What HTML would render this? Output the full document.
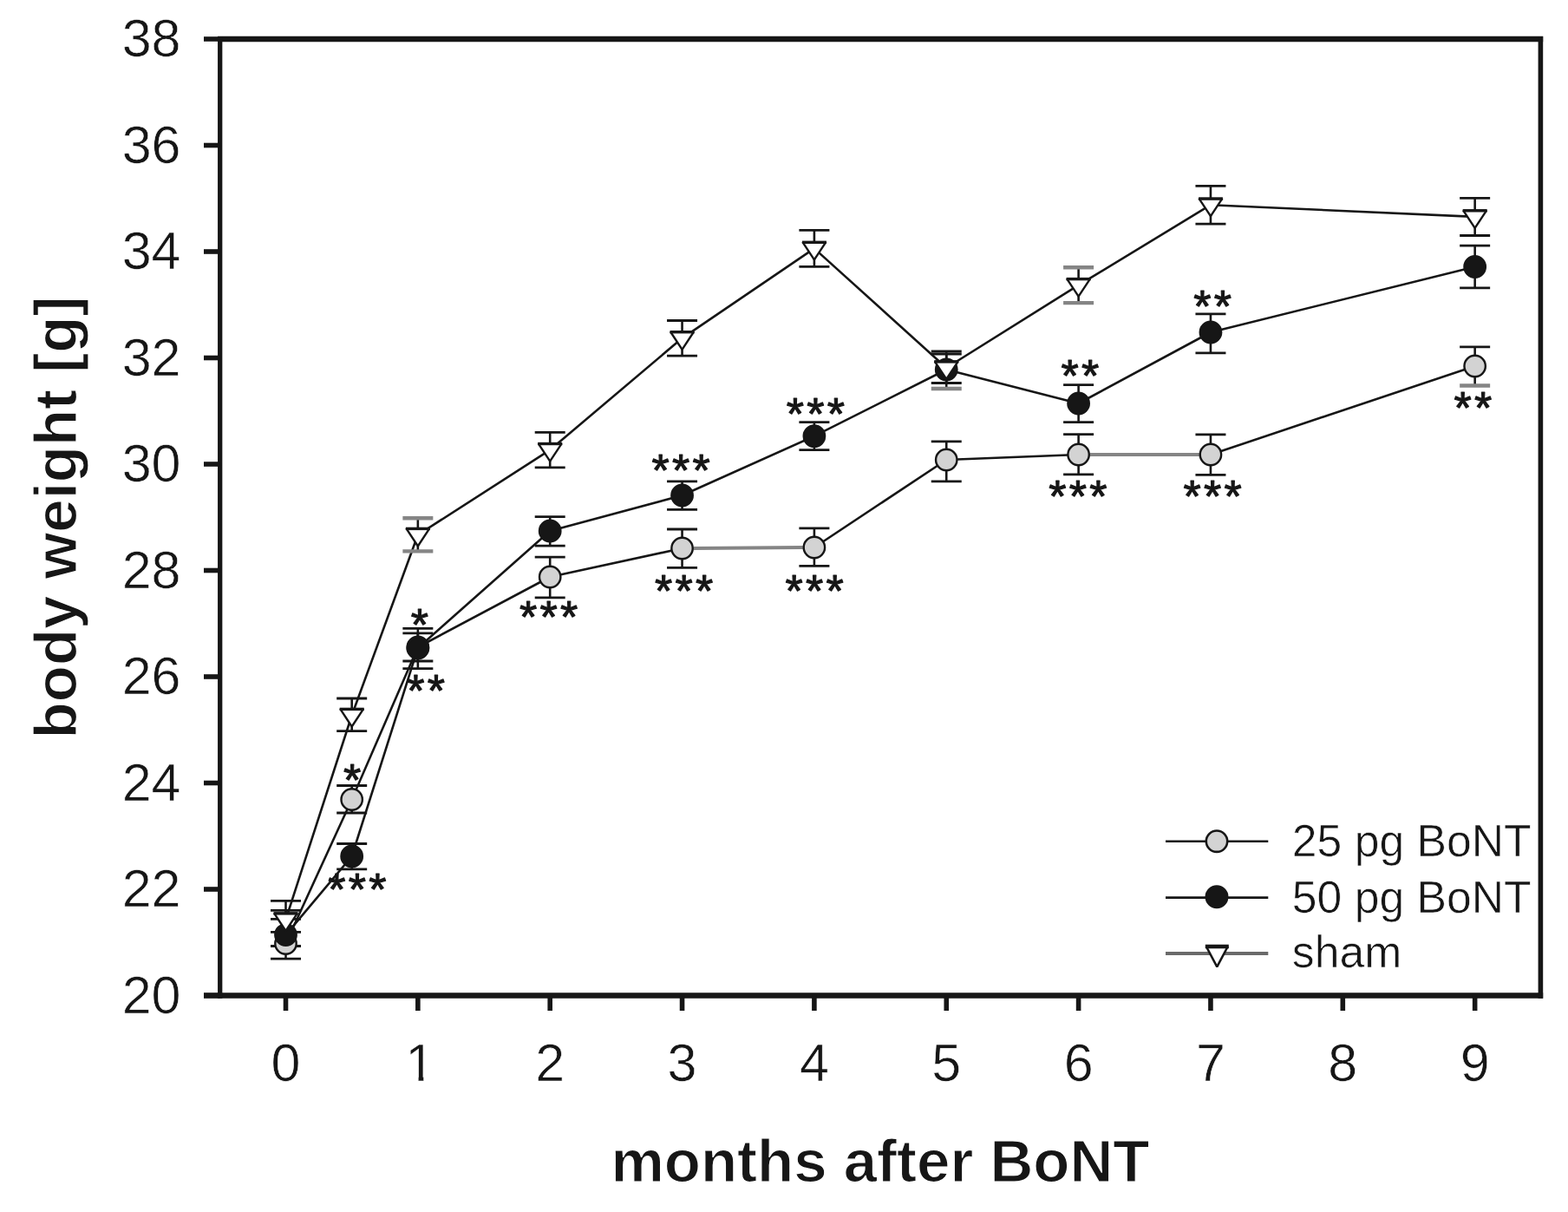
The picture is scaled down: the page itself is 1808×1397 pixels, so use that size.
<!DOCTYPE html>
<html><head><meta charset="utf-8"><title>body weight chart</title>
<style>html,body{margin:0;padding:0;background:#fff;}svg{display:block;}</style></head><body>
<svg width="1808" height="1397" viewBox="0 0 1808 1397">
<rect width="1808" height="1397" fill="#fff"/>
<defs><clipPath id="one"><rect x="440" y="1180" width="80" height="60.6"/><rect x="482.6" y="1180" width="5.7" height="80"/></clipPath></defs>
<g fill="none" stroke="#161616">
<line x1="251" y1="45" x2="1779.2" y2="45" stroke-width="6.6"/>
<line x1="235" y1="1147.5" x2="1779.2" y2="1147.5" stroke-width="6.4"/>
<line x1="253.7" y1="42" x2="253.7" y2="1150.7" stroke-width="5.3"/>
<line x1="1776.4" y1="42" x2="1776.4" y2="1150.7" stroke-width="5.6"/>
</g>
<g stroke="#161616" stroke-width="5.6">
<line x1="235" y1="1147.5" x2="254" y2="1147.5"/>
<line x1="235" y1="1025" x2="254" y2="1025"/>
<line x1="235" y1="902.5" x2="254" y2="902.5"/>
<line x1="235" y1="780" x2="254" y2="780"/>
<line x1="235" y1="657.5" x2="254" y2="657.5"/>
<line x1="235" y1="535" x2="254" y2="535"/>
<line x1="235" y1="412.5" x2="254" y2="412.5"/>
<line x1="235" y1="290" x2="254" y2="290"/>
<line x1="235" y1="167.5" x2="254" y2="167.5"/>
<line x1="235" y1="45" x2="254" y2="45"/>
<line x1="329.5" y1="1147" x2="329.5" y2="1165"/>
<line x1="481.85" y1="1147" x2="481.85" y2="1165"/>
<line x1="634.2" y1="1147" x2="634.2" y2="1165"/>
<line x1="786.55" y1="1147" x2="786.55" y2="1165"/>
<line x1="938.9" y1="1147" x2="938.9" y2="1165"/>
<line x1="1091.25" y1="1147" x2="1091.25" y2="1165"/>
<line x1="1243.6" y1="1147" x2="1243.6" y2="1165"/>
<line x1="1395.95" y1="1147" x2="1395.95" y2="1165"/>
<line x1="1548.3" y1="1147" x2="1548.3" y2="1165"/>
<line x1="1700.65" y1="1147" x2="1700.65" y2="1165"/>
</g>
<g font-family="Liberation Sans, Arial, sans-serif" font-size="61" fill="#161616" stroke="#fff" stroke-width="0.6">
<text x="208.5" y="1167.5" text-anchor="end">20</text>
<text x="208.5" y="1045" text-anchor="end">22</text>
<text x="208.5" y="922.5" text-anchor="end">24</text>
<text x="208.5" y="800" text-anchor="end">26</text>
<text x="208.5" y="677.5" text-anchor="end">28</text>
<text x="208.5" y="555" text-anchor="end">30</text>
<text x="208.5" y="432.5" text-anchor="end">32</text>
<text x="208.5" y="310" text-anchor="end">34</text>
<text x="208.5" y="187.5" text-anchor="end">36</text>
<text x="208.5" y="65" text-anchor="end">38</text>
<text x="329.5" y="1245.6" text-anchor="middle">0</text>
<text x="634.2" y="1245.6" text-anchor="middle">2</text>
<text x="786.55" y="1245.6" text-anchor="middle">3</text>
<text x="938.9" y="1245.6" text-anchor="middle">4</text>
<text x="1091.25" y="1245.6" text-anchor="middle">5</text>
<text x="1243.6" y="1245.6" text-anchor="middle">6</text>
<text x="1395.95" y="1245.6" text-anchor="middle">7</text>
<text x="1548.3" y="1245.6" text-anchor="middle">8</text>
<text x="1700.65" y="1245.6" text-anchor="middle">9</text>
<text x="484.25" y="1245.6" text-anchor="middle" clip-path="url(#one)">1</text>
</g>
<text x="1014.9" y="1362" text-anchor="middle" font-family="Liberation Sans, Arial, sans-serif" font-weight="bold" font-size="69" fill="#161616" stroke="#fff" stroke-width="1.2">months after BoNT</text>
<text transform="translate(88 596.5) rotate(-90)" text-anchor="middle" font-family="Liberation Sans, Arial, sans-serif" font-weight="bold" font-size="69" fill="#161616" stroke="#fff" stroke-width="1.2">body weight [g]</text>
<g fill="none" stroke="#161616" stroke-width="2.6" stroke-linejoin="round">
<polyline points="329.5,1077.6 405.68,987 481.85,747 634.2,612 786.55,571 938.9,502.7 1091.25,426 1243.6,465 1395.95,383 1700.65,307.5"/>
<polyline points="329.5,1060 405.68,824.5 481.85,616.5 634.2,518.6 786.55,389.8 938.9,286.4 1091.25,424 1243.6,328.7 1395.95,236.2 1700.65,249.9"/>
<polyline points="329.5,1087.5 405.68,921.5 481.85,746 634.2,665 786.55,632"/>
<polyline points="938.9,631 1091.25,530 1243.6,524"/>
<polyline points="1395.95,524 1700.65,422"/>
</g>
<g fill="none" stroke="#858585" stroke-width="4">
<line x1="799.55" y1="632" x2="925.9" y2="631"/>
<line x1="1256.6" y1="524" x2="1382.95" y2="524"/>
</g>
<g stroke="#161616" fill="none">
<line x1="329.5" y1="1049.3" x2="329.5" y2="1105.2" stroke-width="2.6"/>
<line x1="312" y1="1049.3" x2="347" y2="1049.3" stroke-width="2.8"/>
<line x1="312" y1="1105.2" x2="347" y2="1105.2" stroke-width="2.8"/>
<line x1="405.68" y1="905.5" x2="405.68" y2="937" stroke-width="2.6"/>
<line x1="388.18" y1="905.5" x2="423.18" y2="905.5" stroke-width="2.8"/>
<line x1="388.18" y1="937" x2="423.18" y2="937" stroke-width="2.8"/>
<line x1="481.85" y1="729.8" x2="481.85" y2="762" stroke-width="2.6"/>
<line x1="464.35" y1="729.8" x2="499.35" y2="729.8" stroke-width="2.8"/>
<line x1="464.35" y1="762" x2="499.35" y2="762" stroke-width="2.8"/>
<line x1="634.2" y1="642.2" x2="634.2" y2="688.8" stroke-width="2.6"/>
<line x1="616.7" y1="642.2" x2="651.7" y2="642.2" stroke-width="2.8"/>
<line x1="616.7" y1="688.8" x2="651.7" y2="688.8" stroke-width="2.8"/>
<line x1="786.55" y1="610" x2="786.55" y2="654.3" stroke-width="2.6"/>
<line x1="769.05" y1="610" x2="804.05" y2="610" stroke-width="2.8"/>
<line x1="769.05" y1="654.3" x2="804.05" y2="654.3" stroke-width="2.8"/>
<line x1="938.9" y1="608.9" x2="938.9" y2="652.3" stroke-width="2.6"/>
<line x1="921.4" y1="608.9" x2="956.4" y2="608.9" stroke-width="2.8"/>
<line x1="921.4" y1="652.3" x2="956.4" y2="652.3" stroke-width="2.8"/>
<line x1="1091.25" y1="508.8" x2="1091.25" y2="554.9" stroke-width="2.6"/>
<line x1="1073.75" y1="508.8" x2="1108.75" y2="508.8" stroke-width="2.8"/>
<line x1="1073.75" y1="554.9" x2="1108.75" y2="554.9" stroke-width="2.8"/>
<line x1="1243.6" y1="500.6" x2="1243.6" y2="546.8" stroke-width="2.6"/>
<line x1="1226.1" y1="500.6" x2="1261.1" y2="500.6" stroke-width="2.8"/>
<line x1="1226.1" y1="546.8" x2="1261.1" y2="546.8" stroke-width="2.8"/>
<line x1="1395.95" y1="500.9" x2="1395.95" y2="547.3" stroke-width="2.6"/>
<line x1="1378.45" y1="500.9" x2="1413.45" y2="500.9" stroke-width="2.8"/>
<line x1="1378.45" y1="547.3" x2="1413.45" y2="547.3" stroke-width="2.8"/>
<line x1="1700.65" y1="399.8" x2="1700.65" y2="444.5" stroke-width="2.6"/>
<line x1="1683.15" y1="399.8" x2="1718.15" y2="399.8" stroke-width="2.8"/>
<line x1="1683.15" y1="444.5" x2="1718.15" y2="444.5" stroke="#858585" stroke-width="4.4"/>
<line x1="329.5" y1="1059.4" x2="329.5" y2="1090.5" stroke-width="2.6"/>
<line x1="312" y1="1059.4" x2="347" y2="1059.4" stroke-width="2.8"/>
<line x1="312" y1="1090.5" x2="347" y2="1090.5" stroke-width="2.8"/>
<line x1="405.68" y1="972.5" x2="405.68" y2="1001.8" stroke-width="2.6"/>
<line x1="388.18" y1="972.5" x2="423.18" y2="972.5" stroke-width="2.8"/>
<line x1="388.18" y1="1001.8" x2="423.18" y2="1001.8" stroke-width="2.8"/>
<line x1="481.85" y1="724.3" x2="481.85" y2="770.7" stroke-width="2.6"/>
<line x1="464.35" y1="724.3" x2="499.35" y2="724.3" stroke-width="2.8"/>
<line x1="464.35" y1="770.7" x2="499.35" y2="770.7" stroke-width="2.8"/>
<line x1="634.2" y1="595.7" x2="634.2" y2="629.2" stroke-width="2.6"/>
<line x1="616.7" y1="595.7" x2="651.7" y2="595.7" stroke-width="2.8"/>
<line x1="616.7" y1="629.2" x2="651.7" y2="629.2" stroke-width="2.8"/>
<line x1="786.55" y1="554.9" x2="786.55" y2="587.4" stroke-width="2.6"/>
<line x1="769.05" y1="554.9" x2="804.05" y2="554.9" stroke-width="2.8"/>
<line x1="769.05" y1="587.4" x2="804.05" y2="587.4" stroke-width="2.8"/>
<line x1="938.9" y1="486.6" x2="938.9" y2="518.7" stroke-width="2.6"/>
<line x1="921.4" y1="486.6" x2="956.4" y2="486.6" stroke-width="2.8"/>
<line x1="921.4" y1="518.7" x2="956.4" y2="518.7" stroke-width="2.8"/>
<line x1="1091.25" y1="405" x2="1091.25" y2="448" stroke-width="2.6"/>
<line x1="1073.75" y1="405" x2="1108.75" y2="405" stroke-width="2.8"/>
<line x1="1073.75" y1="448" x2="1108.75" y2="448" stroke="#858585" stroke-width="4.4"/>
<line x1="1243.6" y1="443.7" x2="1243.6" y2="486.6" stroke-width="2.6"/>
<line x1="1226.1" y1="443.7" x2="1261.1" y2="443.7" stroke-width="2.8"/>
<line x1="1226.1" y1="486.6" x2="1261.1" y2="486.6" stroke-width="2.8"/>
<line x1="1395.95" y1="361.8" x2="1395.95" y2="406.9" stroke-width="2.6"/>
<line x1="1378.45" y1="361.8" x2="1413.45" y2="361.8" stroke-width="2.8"/>
<line x1="1378.45" y1="406.9" x2="1413.45" y2="406.9" stroke-width="2.8"/>
<line x1="1700.65" y1="283.2" x2="1700.65" y2="331.9" stroke-width="2.6"/>
<line x1="1683.15" y1="283.2" x2="1718.15" y2="283.2" stroke-width="2.8"/>
<line x1="1683.15" y1="331.9" x2="1718.15" y2="331.9" stroke-width="2.8"/>
<line x1="329.5" y1="1038.3" x2="329.5" y2="1074.4" stroke-width="2.6"/>
<line x1="312" y1="1038.3" x2="347" y2="1038.3" stroke-width="2.8"/>
<line x1="312" y1="1074.4" x2="347" y2="1074.4" stroke-width="2.8"/>
<line x1="405.68" y1="805" x2="405.68" y2="842.7" stroke-width="2.6"/>
<line x1="388.18" y1="805" x2="423.18" y2="805" stroke-width="2.8"/>
<line x1="388.18" y1="842.7" x2="423.18" y2="842.7" stroke-width="2.8"/>
<line x1="481.85" y1="597.2" x2="481.85" y2="635.4" stroke-width="2.6"/>
<line x1="464.35" y1="597.2" x2="499.35" y2="597.2" stroke="#858585" stroke-width="4.4"/>
<line x1="464.35" y1="635.4" x2="499.35" y2="635.4" stroke="#858585" stroke-width="4.4"/>
<line x1="634.2" y1="498.3" x2="634.2" y2="538.9" stroke-width="2.6"/>
<line x1="616.7" y1="498.3" x2="651.7" y2="498.3" stroke-width="2.8"/>
<line x1="616.7" y1="538.9" x2="651.7" y2="538.9" stroke-width="2.8"/>
<line x1="786.55" y1="369.5" x2="786.55" y2="410.1" stroke-width="2.6"/>
<line x1="769.05" y1="369.5" x2="804.05" y2="369.5" stroke-width="2.8"/>
<line x1="769.05" y1="410.1" x2="804.05" y2="410.1" stroke-width="2.8"/>
<line x1="938.9" y1="265.4" x2="938.9" y2="307.3" stroke-width="2.6"/>
<line x1="921.4" y1="265.4" x2="956.4" y2="265.4" stroke-width="2.8"/>
<line x1="921.4" y1="307.3" x2="956.4" y2="307.3" stroke-width="2.8"/>
<line x1="1091.25" y1="408" x2="1091.25" y2="441.5" stroke-width="2.6"/>
<line x1="1073.75" y1="408" x2="1108.75" y2="408" stroke-width="2.8"/>
<line x1="1073.75" y1="441.5" x2="1108.75" y2="441.5" stroke-width="2.8"/>
<line x1="1243.6" y1="308.3" x2="1243.6" y2="349.1" stroke-width="2.6"/>
<line x1="1226.1" y1="308.3" x2="1261.1" y2="308.3" stroke="#858585" stroke-width="4.4"/>
<line x1="1226.1" y1="349.1" x2="1261.1" y2="349.1" stroke="#858585" stroke-width="4.4"/>
<line x1="1395.95" y1="214.4" x2="1395.95" y2="258.1" stroke-width="2.6"/>
<line x1="1378.45" y1="214.4" x2="1413.45" y2="214.4" stroke-width="2.8"/>
<line x1="1378.45" y1="258.1" x2="1413.45" y2="258.1" stroke-width="2.8"/>
<line x1="1700.65" y1="228.3" x2="1700.65" y2="271.5" stroke-width="2.6"/>
<line x1="1683.15" y1="228.3" x2="1718.15" y2="228.3" stroke-width="2.8"/>
<line x1="1683.15" y1="271.5" x2="1718.15" y2="271.5" stroke-width="2.8"/>
</g>
<g stroke="#161616" stroke-width="2.4">
<circle cx="329.5" cy="1087.5" r="12.2" fill="#d3d3d3"/>
<circle cx="405.68" cy="921.5" r="12.2" fill="#d3d3d3"/>
<circle cx="481.85" cy="746" r="12.2" fill="#d3d3d3"/>
<circle cx="634.2" cy="665" r="12.2" fill="#d3d3d3"/>
<circle cx="786.55" cy="632" r="12.2" fill="#d3d3d3"/>
<circle cx="938.9" cy="631" r="12.2" fill="#d3d3d3"/>
<circle cx="1091.25" cy="530" r="12.2" fill="#d3d3d3"/>
<circle cx="1243.6" cy="524" r="12.2" fill="#d3d3d3"/>
<circle cx="1395.95" cy="524" r="12.2" fill="#d3d3d3"/>
<circle cx="1700.65" cy="422" r="12.2" fill="#d3d3d3"/>
<circle cx="329.5" cy="1077.6" r="12.2" fill="#161616"/>
<circle cx="405.68" cy="987" r="12.2" fill="#161616"/>
<circle cx="481.85" cy="747" r="12.2" fill="#161616"/>
<circle cx="634.2" cy="612" r="12.2" fill="#161616"/>
<circle cx="786.55" cy="571" r="12.2" fill="#161616"/>
<circle cx="938.9" cy="502.7" r="12.2" fill="#161616"/>
<circle cx="1091.25" cy="426" r="12.2" fill="#161616"/>
<circle cx="1243.6" cy="465" r="12.2" fill="#161616"/>
<circle cx="1395.95" cy="383" r="12.2" fill="#161616"/>
<circle cx="1700.65" cy="307.5" r="12.2" fill="#161616"/>
<path d="M316.1,1052.7 L342.9,1052.7 L329.5,1073 Z" fill="#fff" stroke-linejoin="bevel"/>
<line x1="315.5" y1="1052.9" x2="343.5" y2="1052.9" stroke-width="3.4"/>
<path d="M392.28,817.2 L419.07,817.2 L405.68,837.5 Z" fill="#fff" stroke-linejoin="bevel"/>
<line x1="391.68" y1="817.4" x2="419.68" y2="817.4" stroke-width="3.4"/>
<path d="M468.45,609.2 L495.25,609.2 L481.85,629.5 Z" fill="#fff" stroke-linejoin="bevel"/>
<line x1="467.85" y1="609.4" x2="495.85" y2="609.4" stroke-width="3.4"/>
<path d="M620.8,511.3 L647.6,511.3 L634.2,531.6 Z" fill="#fff" stroke-linejoin="bevel"/>
<line x1="620.2" y1="511.5" x2="648.2" y2="511.5" stroke-width="3.4"/>
<path d="M773.15,382.5 L799.95,382.5 L786.55,402.8 Z" fill="#fff" stroke-linejoin="bevel"/>
<line x1="772.55" y1="382.7" x2="800.55" y2="382.7" stroke-width="3.4"/>
<path d="M925.5,279.1 L952.3,279.1 L938.9,299.4 Z" fill="#fff" stroke-linejoin="bevel"/>
<line x1="924.9" y1="279.3" x2="952.9" y2="279.3" stroke-width="3.4"/>
<path d="M1077.85,416.7 L1104.65,416.7 L1091.25,437 Z" fill="#fff" stroke-linejoin="bevel"/>
<line x1="1077.25" y1="416.9" x2="1105.25" y2="416.9" stroke-width="3.4"/>
<path d="M1230.2,321.4 L1257,321.4 L1243.6,341.7 Z" fill="#fff" stroke-linejoin="bevel"/>
<line x1="1229.6" y1="321.6" x2="1257.6" y2="321.6" stroke-width="3.4"/>
<path d="M1382.55,228.9 L1409.35,228.9 L1395.95,249.2 Z" fill="#fff" stroke-linejoin="bevel"/>
<line x1="1381.95" y1="229.1" x2="1409.95" y2="229.1" stroke-width="3.4"/>
<path d="M1687.25,242.6 L1714.05,242.6 L1700.65,262.9 Z" fill="#fff" stroke-linejoin="bevel"/>
<line x1="1686.65" y1="242.8" x2="1714.65" y2="242.8" stroke-width="3.4"/>
</g>
<g font-family="Liberation Sans, Arial, sans-serif" font-size="52" fill="#161616" stroke="#161616" stroke-width="1.1" stroke-linejoin="round" text-anchor="middle">
<text x="406" y="917.17">*</text>
<text x="388.4 411.9 435.4" y="1042.87">***</text>
<text x="483.9" y="737.77">*</text>
<text x="479.25 502.75" y="814.07">**</text>
<text x="609 632.5 656" y="729.47">***</text>
<text x="761.7 785.2 808.7" y="560.37">***</text>
<text x="765.2 788.7 812.2" y="699.27">***</text>
<text x="916.9 940.4 963.9" y="495.17">***</text>
<text x="915.6 939.1 962.6" y="699.37">***</text>
<text x="1233.65 1257.15" y="451.27">**</text>
<text x="1219.4 1242.9 1266.4" y="590.37">***</text>
<text x="1386.25 1409.75" y="370.57">**</text>
<text x="1374.5 1398 1421.5" y="590.07">***</text>
<text x="1686.55 1710.05" y="487.87">**</text>
</g>
<g stroke="#161616" stroke-width="2.6">
<line x1="1344" y1="969.8" x2="1462.3" y2="969.8"/>
<circle cx="1403" cy="969.7" r="12.2" fill="#d3d3d3"/>
<line x1="1344" y1="1034.6" x2="1462.3" y2="1034.6"/>
<circle cx="1403" cy="1033.8" r="12.2" fill="#161616"/>
<line x1="1344" y1="1099" x2="1462.3" y2="1099" stroke="#6a6a6a" stroke-width="4.2"/>
<path d="M1390.9,1091 L1415.7,1091 L1403.3,1114.4 Z" fill="#fff" stroke-linejoin="bevel"/>
<line x1="1389.8" y1="1091" x2="1416.8" y2="1091" stroke-width="4.6"/>
</g>
<g font-family="Liberation Sans, Arial, sans-serif" font-size="51.7" fill="#161616" stroke="#fff" stroke-width="0.6">
<text x="1489.8" y="987.3">25 pg BoNT</text>
<text x="1489.8" y="1052.1">50 pg BoNT</text>
<text x="1489.8" y="1115.3">sham</text>
</g>
</svg>
</body></html>
